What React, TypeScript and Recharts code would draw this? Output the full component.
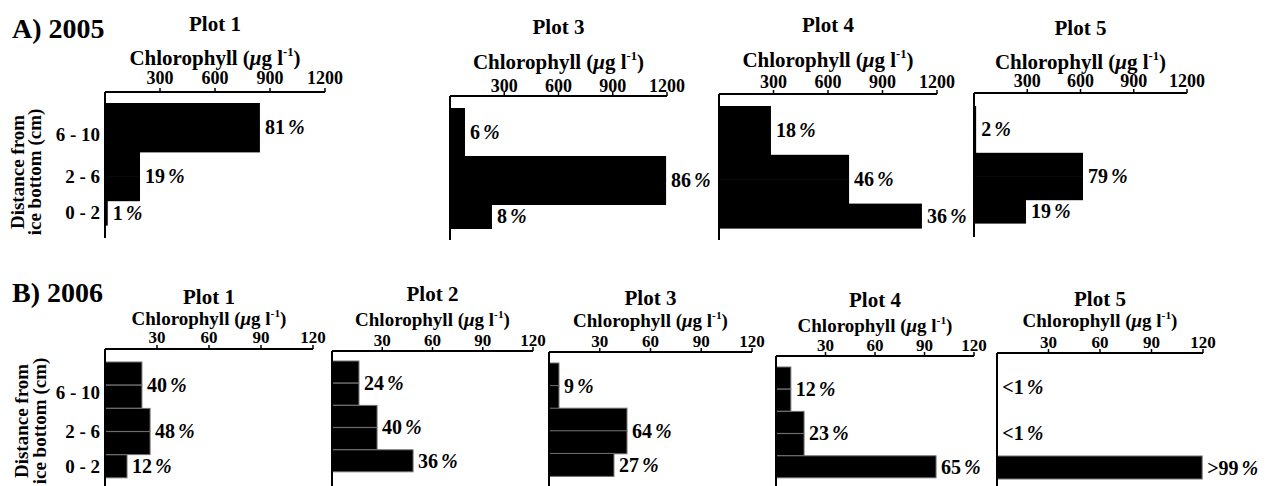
import React from 'react';
import { Bar, BarChart, XAxis, YAxis } from 'recharts';

// 2 cm depth bins, top of the core first
const depthBins = ['8-10', '6-8', '4-6', '2-4', '0-2'];
// sampled layer each bin belongs to (0: 6-10 cm, 1: 2-6 cm, 2: 0-2 cm)
const binLayer = [0, 0, 1, 1, 2];
const layerLabels = ['6 - 10', '2 - 6', '0 - 2'];

const ticks2005 = [300, 600, 900, 1200];
const ticks2006 = [30, 60, 90, 120];

// chlorophyll (µg l-1) per layer: 6-10, 2-6, 0-2 cm
const chl2005Plot1 = [845, 191, 15];
const chl2005Plot3 = [83, 1195, 232];
const chl2005Plot4 = [286, 716, 1117];
const chl2005Plot5 = [12, 614, 293];

const chl2006Plot1 = [21.3, 26, 12.7];
const chl2006Plot2 = [16.1, 26.9, 48.4];
const chl2006Plot3 = [5.9, 46.1, 38.4];
const chl2006Plot4 = [9, 17, 97];
const chl2006Plot5 = [0.2, 0.2, 119.5];

// share of the integrated chlorophyll per layer
const pct2005Plot1 = ['81', '19', '1'];
const pct2005Plot3 = ['6', '86', '8'];
const pct2005Plot4 = ['18', '46', '36'];
const pct2005Plot5 = ['2', '79', '19'];

const pct2006Plot1 = ['40', '48', '12'];
const pct2006Plot2 = ['24', '40', '36'];
const pct2006Plot3 = ['9', '64', '27'];
const pct2006Plot4 = ['12', '23', '65'];
const pct2006Plot5 = ['<1', '<1', '>99'];

const FONT = '"Liberation Serif", "Times New Roman", serif';
const XH = 40;
const MR = 60;

type Panel = {
  title: string;
  chl: number[];
  pct: string[];
  ticks: number[];
  x0: number;
  x1: number;
  axisY: number;
  barTop: number;
  barBottom: number;
  axisBottom: number;
  titleY: number;
  chlY: number;
  tickGap: number;
  depthAxis?: boolean;
};

const panels2005: Panel[] = [
  { title: 'Plot 1', chl: chl2005Plot1, pct: pct2005Plot1, ticks: ticks2005, x0: 105, x1: 325, axisY: 92, barTop: 103, barBottom: 225, axisBottom: 238, titleY: 24, chlY: 58, tickGap: 8, depthAxis: true },
  { title: 'Plot 3', chl: chl2005Plot3, pct: pct2005Plot3, ticks: ticks2005, x0: 450, x1: 667, axisY: 96, barTop: 108, barBottom: 228, axisBottom: 240, titleY: 27, chlY: 62, tickGap: 4 },
  { title: 'Plot 4', chl: chl2005Plot4, pct: pct2005Plot4, ticks: ticks2005, x0: 719, x1: 937, axisY: 94, barTop: 106, barBottom: 228, axisBottom: 240, titleY: 25, chlY: 60, tickGap: 6 },
  { title: 'Plot 5', chl: chl2005Plot5, pct: pct2005Plot5, ticks: ticks2005, x0: 974, x1: 1187, axisY: 93, barTop: 106, barBottom: 223, axisBottom: 237, titleY: 28, chlY: 62, tickGap: 6 },
];

const panels2006: Panel[] = [
  { title: 'Plot 1', chl: chl2006Plot1, pct: pct2006Plot1, ticks: ticks2006, x0: 105, x1: 313, axisY: 349, barTop: 362, barBottom: 478, axisBottom: 490, titleY: 297, chlY: 318, tickGap: 6, depthAxis: true },
  { title: 'Plot 2', chl: chl2006Plot2, pct: pct2006Plot2, ticks: ticks2006, x0: 332, x1: 533, axisY: 351, barTop: 361, barBottom: 472, axisBottom: 490, titleY: 294, chlY: 319, tickGap: 5 },
  { title: 'Plot 3', chl: chl2006Plot3, pct: pct2006Plot3, ticks: ticks2006, x0: 549, x1: 752, axisY: 352, barTop: 363, barBottom: 476, axisBottom: 490, titleY: 298, chlY: 320, tickGap: 5 },
  { title: 'Plot 4', chl: chl2006Plot4, pct: pct2006Plot4, ticks: ticks2006, x0: 776, x1: 974, axisY: 356, barTop: 367, barBottom: 478, axisBottom: 490, titleY: 300, chlY: 325, tickGap: 5 },
  { title: 'Plot 5', chl: chl2006Plot5, pct: pct2006Plot5, ticks: ticks2006, x0: 997, x1: 1203, axisY: 353, barTop: 364, barBottom: 479, axisBottom: 490, titleY: 299, chlY: 320, tickGap: 5 },
];

const layerSpan = (layer: number) => binLayer.filter((l) => l === layer).length;

function buildRows(chl: number[], pct: string[]) {
  return depthBins.map((bin, i) => {
    const layer = binLayer[i];
    const first = binLayer.indexOf(layer) === i;
    return { bin, v: chl[layer], lbl: first ? pct[layer] : '', span: layerSpan(layer) };
  });
}

const renderBin = (p: any, outline: boolean) => {
  const { x, y, width, height, payload } = p;
  const w = Math.max(width || 0, 0);
  // 2005 bars are drawn solid: overlap the bins a little so no seam shows
  const h = outline ? height : height + 1;
  return (
    <g>
      <rect
        x={x}
        y={y}
        width={w}
        height={h}
        fill="#000"
        stroke={outline ? '#707070' : 'none'}
        strokeWidth={outline ? 1 : 0}
      />
      {payload.lbl ? (
        <text
          x={x + w + 5}
          y={y + (height * payload.span) / 2}
          dominantBaseline="central"
          fontFamily={FONT}
          fontWeight="bold"
          fontSize={20}
          fill="#000"
        >
          {payload.lbl}
          <tspan dx={3} fontStyle="italic">%</tspan>
        </text>
      ) : null}
    </g>
  );
};

const DepthTick = (props: any) => {
  const { x, y, payload, band } = props;
  const idx = depthBins.indexOf(payload.value);
  const layer = binLayer[idx];
  if (binLayer.indexOf(layer) !== idx) return null;
  const dy = (band * (layerSpan(layer) - 1)) / 2 + (layer === 0 ? 7 : 0);
  return (
    <text
      x={x}
      y={y + dy}
      textAnchor="end"
      dominantBaseline="central"
      fontFamily={FONT}
      fontWeight="bold"
      fontSize={19}
      fill="#000"
    >
      {layerLabels[layer]}
    </text>
  );
};

const PanelChart: React.FC<{ panel: Panel; outline: boolean; tickFont: number }> = ({ panel, outline, tickFont }) => {
  const W = panel.depthAxis ? 100 : 10;
  const plotW = panel.x1 - panel.x0;
  const plotH = panel.axisBottom - panel.axisY;
  const band = (panel.barBottom - panel.barTop) / depthBins.length;
  const max = panel.ticks[panel.ticks.length - 1];
  const data = buildRows(panel.chl, panel.pct);
  return (
    <div style={{ position: 'absolute', left: panel.x0 - W, top: panel.axisY - XH }}>
      <BarChart
        width={W + plotW + MR}
        height={XH + plotH}
        data={data}
        layout="vertical"
        margin={{ top: 0, right: MR, bottom: 0, left: 0 }}
        barCategoryGap={0}
        barGap={0}
      >
        <XAxis
          type="number"
          orientation="top"
          domain={[0, max]}
          ticks={panel.ticks}
          interval={0}
          height={XH}
          axisLine={{ stroke: '#000', strokeWidth: 2 }}
          tickLine={{ stroke: '#000', strokeWidth: 1.5 }}
          tickSize={4}
          tickMargin={Math.max(panel.tickGap - 4, 0)}
          tick={{ fill: '#000', fontSize: tickFont, fontWeight: 'bold', fontFamily: FONT }}
        />
        <YAxis
          type="category"
          dataKey="bin"
          width={W}
          interval={0}
          axisLine={{ stroke: '#000', strokeWidth: 2 }}
          tickLine={false}
          tickSize={0}
          tickMargin={5}
          padding={{ top: panel.barTop - panel.axisY, bottom: panel.axisBottom - panel.barBottom }}
          tick={panel.depthAxis ? (p: any) => <DepthTick {...p} band={band} /> : false}
        />
        <Bar dataKey="v" isAnimationActive={false} shape={(p: any) => renderBin(p, outline)} />
      </BarChart>
    </div>
  );
};

const Centered: React.FC<{ x: number; y: number; size: number; children: React.ReactNode }> = ({ x, y, size, children }) => (
  <div
    style={{
      position: 'absolute',
      left: x,
      top: y,
      transform: 'translate(-50%, -50%)',
      fontSize: size,
      fontWeight: 'bold',
      lineHeight: 1,
      whiteSpace: 'nowrap',
    }}
  >
    {children}
  </div>
);

const ChlLabel = () => (
  <>
    Chlorophyll (<i>μ</i>g l<span style={{ fontSize: '0.6em', position: 'relative', top: '-0.7em' }}>-1</span>)
  </>
);

const DepthTitle: React.FC<{ x: number; y: number; lh: number }> = ({ x, y, lh }) => (
  <div
    style={{
      position: 'absolute',
      left: x,
      top: y,
      transform: 'translate(-50%, -50%) rotate(-90deg)',
      fontSize: 19,
      fontWeight: 'bold',
      lineHeight: `${lh}px`,
      textAlign: 'center',
      whiteSpace: 'nowrap',
    }}
  >
    Distance from
    <br />
    ice bottom (cm)
  </div>
);

const Row: React.FC<{ panels: Panel[]; outline: boolean; tickFont: number; chlFont: number }> = ({ panels, outline, tickFont, chlFont }) => (
  <>
    {panels.map((p, i) => {
      const cx = (p.x0 + p.x1) / 2;
      return (
        <React.Fragment key={i}>
          <PanelChart panel={p} outline={outline} tickFont={tickFont} />
          <Centered x={cx} y={p.titleY} size={21}>
            {p.title}
          </Centered>
          <Centered x={cx} y={p.chlY} size={chlFont}>
            <ChlLabel />
          </Centered>
        </React.Fragment>
      );
    })}
  </>
);

export default function App() {
  return (
    <div
      style={{
        position: 'absolute',
        left: 0,
        top: 0,
        width: 1266,
        height: 486,
        overflow: 'hidden',
        background: '#fff',
        fontFamily: FONT,
        color: '#000',
      }}
    >
      <div style={{ position: 'absolute', left: 12, top: 29, transform: 'translateY(-50%)', fontSize: 28, fontWeight: 'bold', lineHeight: 1 }}>
        A) 2005
      </div>
      <div style={{ position: 'absolute', left: 12, top: 293, transform: 'translateY(-50%)', fontSize: 28, fontWeight: 'bold', lineHeight: 1 }}>
        B) 2006
      </div>
      <DepthTitle x={26} y={172} lh={17} />
      <DepthTitle x={31} y={421} lh={18} />
      <Row panels={panels2005} outline={false} tickFont={18} chlFont={21} />
      <Row panels={panels2006} outline={true} tickFont={17} chlFont={19} />
    </div>
  );
}
